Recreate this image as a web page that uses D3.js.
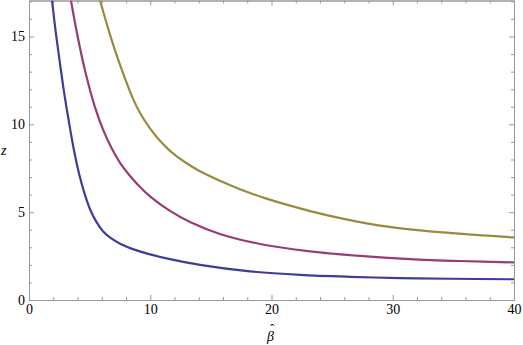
<!DOCTYPE html>
<html>
<head>
<meta charset="utf-8">
<script src="https://cdn.jsdelivr.net/npm/d3@7"></script>
<style>
  body { margin: 0; background: #fff; }
  svg { display: block; }
  .tick text { font-family: "Liberation Serif", "DejaVu Serif", serif; font-size: 14px; fill: #000; }
</style>
</head>
<body>
<svg id="chart" width="523" height="345"></svg>
<script>
// values (beta, z)
var blueBeta   = [1.90, 2.19, 2.52, 2.87, 3.27, 3.71, 4.16, 4.62, 5.07, 5.57, 6.10, 6.76, 7.59, 8.82, 9.98, 12.04, 14.10, 18.23, 22.35, 26.47, 30.60, 34.72, 40]
var blueZ      = [17.05, 15.34, 13.64, 11.93, 10.23, 8.52, 7.10, 5.97, 5.11, 4.43, 3.92, 3.52, 3.18, 2.84, 2.60, 2.27, 2.00, 1.63, 1.43, 1.32, 1.25, 1.21, 1.18]
var purpleBeta = [3.46, 4.04, 4.68, 5.44, 6.10, 6.85, 7.51, 8.25, 9.16, 9.98, 11.63, 13.28, 15.75, 19.05, 23.18, 27.30, 31.42, 35.55, 40]
var purpleZ    = [17.05, 14.90, 12.89, 10.98, 9.71, 8.59, 7.81, 7.13, 6.43, 5.90, 5.07, 4.44, 3.76, 3.19, 2.77, 2.51, 2.33, 2.22, 2.14]
var oliveBeta  = [5.86, 6.68, 7.51, 8.60, 9.16, 9.98, 10.80, 11.63, 12.87, 14.10, 15.75, 17.40, 19.46, 21.53, 23.18, 26.06, 28.95, 31.42, 35.71, 40]
var oliveZ     = [17.05, 15.11, 13.38, 11.42, 10.65, 9.77, 9.06, 8.49, 7.84, 7.33, 6.79, 6.31, 5.80, 5.37, 5.06, 4.60, 4.23, 4.02, 3.76, 3.56]

var xMajor = [0, 10, 20, 30, 40]
var yMajor = [0, 5, 10, 15]

var series = [
  {name: "blue",   beta: blueBeta,   z: blueZ,   color: "#3d3d99"},
  {name: "purple", beta: purpleBeta, z: purpleZ, color: "#993d71"},
  {name: "olive",  beta: oliveBeta,  z: oliveZ,  color: "#998b3d"}
]

var svg = d3.select("#chart")
var margin = {left: 29, right: 514, top: 0.5, bottom: 300}

var xScale = d3.scaleLinear().domain([0, 40]).range([margin.left, margin.right])
var yScale = d3.scaleLinear().domain([0, 17.05]).range([margin.bottom, margin.top])

var xMinor = d3.range(0, 41, 2).filter(d => xMajor.indexOf(d) < 0)
var yMinor = d3.range(0, 18, 1).filter(d => yMajor.indexOf(d) < 0)

var axisColor = "#999"

function styleAxis(g) {
  g.selectAll(".domain").attr("stroke", axisColor)
  g.selectAll(".tick line").attr("stroke", axisColor)
}

function addAxis(axis, tx, ty) {
  svg.append("g").attr("transform", "translate(" + tx + "," + ty + ")")
    .call(axis).call(styleAxis)
}

// bottom axis
addAxis(d3.axisBottom(xScale).tickValues(xMajor).tickSize(-5).tickPadding(4).tickSizeOuter(0), 0, margin.bottom)
addAxis(d3.axisBottom(xScale).tickValues(xMinor).tickSize(-3).tickFormat("").tickSizeOuter(0), 0, margin.bottom)

// left axis
addAxis(d3.axisLeft(yScale).tickValues(yMajor).tickSize(-5).tickPadding(4).tickSizeOuter(0), margin.left, 0)
addAxis(d3.axisLeft(yScale).tickValues(yMinor).tickSize(-3).tickFormat("").tickSizeOuter(0), margin.left, 0)

// top frame
addAxis(d3.axisTop(xScale).tickValues(xMajor).tickSize(-5).tickFormat("").tickSizeOuter(0), 0, margin.top)
addAxis(d3.axisTop(xScale).tickValues(xMinor).tickSize(-3).tickFormat("").tickSizeOuter(0), 0, margin.top)

// right frame
addAxis(d3.axisRight(yScale).tickValues(yMajor).tickSize(-5).tickFormat("").tickSizeOuter(0), margin.right, 0)
addAxis(d3.axisRight(yScale).tickValues(yMinor).tickSize(-3).tickFormat("").tickSizeOuter(0), margin.right, 0)

// clip
svg.append("clipPath").attr("id", "plot-clip")
  .append("rect").attr("x", margin.left).attr("y", margin.top)
  .attr("width", margin.right - margin.left).attr("height", margin.bottom - margin.top)

var line = d3.line()
  .x(d => xScale(d[0]))
  .y(d => yScale(d[1]))
  .curve(d3.curveCatmullRom.alpha(0.5))

svg.append("g").attr("clip-path", "url(#plot-clip)")
  .selectAll("path").data(series).enter().append("path")
  .attr("d", d => line(d.beta.map((b, i) => [b, d.z[i]])))
  .attr("fill", "none")
  .attr("stroke", d => d.color)
  .attr("stroke-width", 2.2)

// axis labels
svg.append("text")
  .attr("x", 1).attr("y", 155)
  .attr("font-family", "Liberation Serif, serif")
  .attr("font-style", "italic")
  .attr("font-size", 14)
  .text("z")

svg.append("text")
  .attr("x", 267).attr("y", 341)
  .attr("font-family", "Liberation Serif, serif")
  .attr("font-style", "italic")
  .attr("font-size", 14)
  .text("β")
svg.append("text")
  .attr("x", 270).attr("y", 333)
  .attr("font-family", "Liberation Serif, serif")
  .attr("font-size", 13)
  .text("ˆ")
</script>
</body>
</html>
